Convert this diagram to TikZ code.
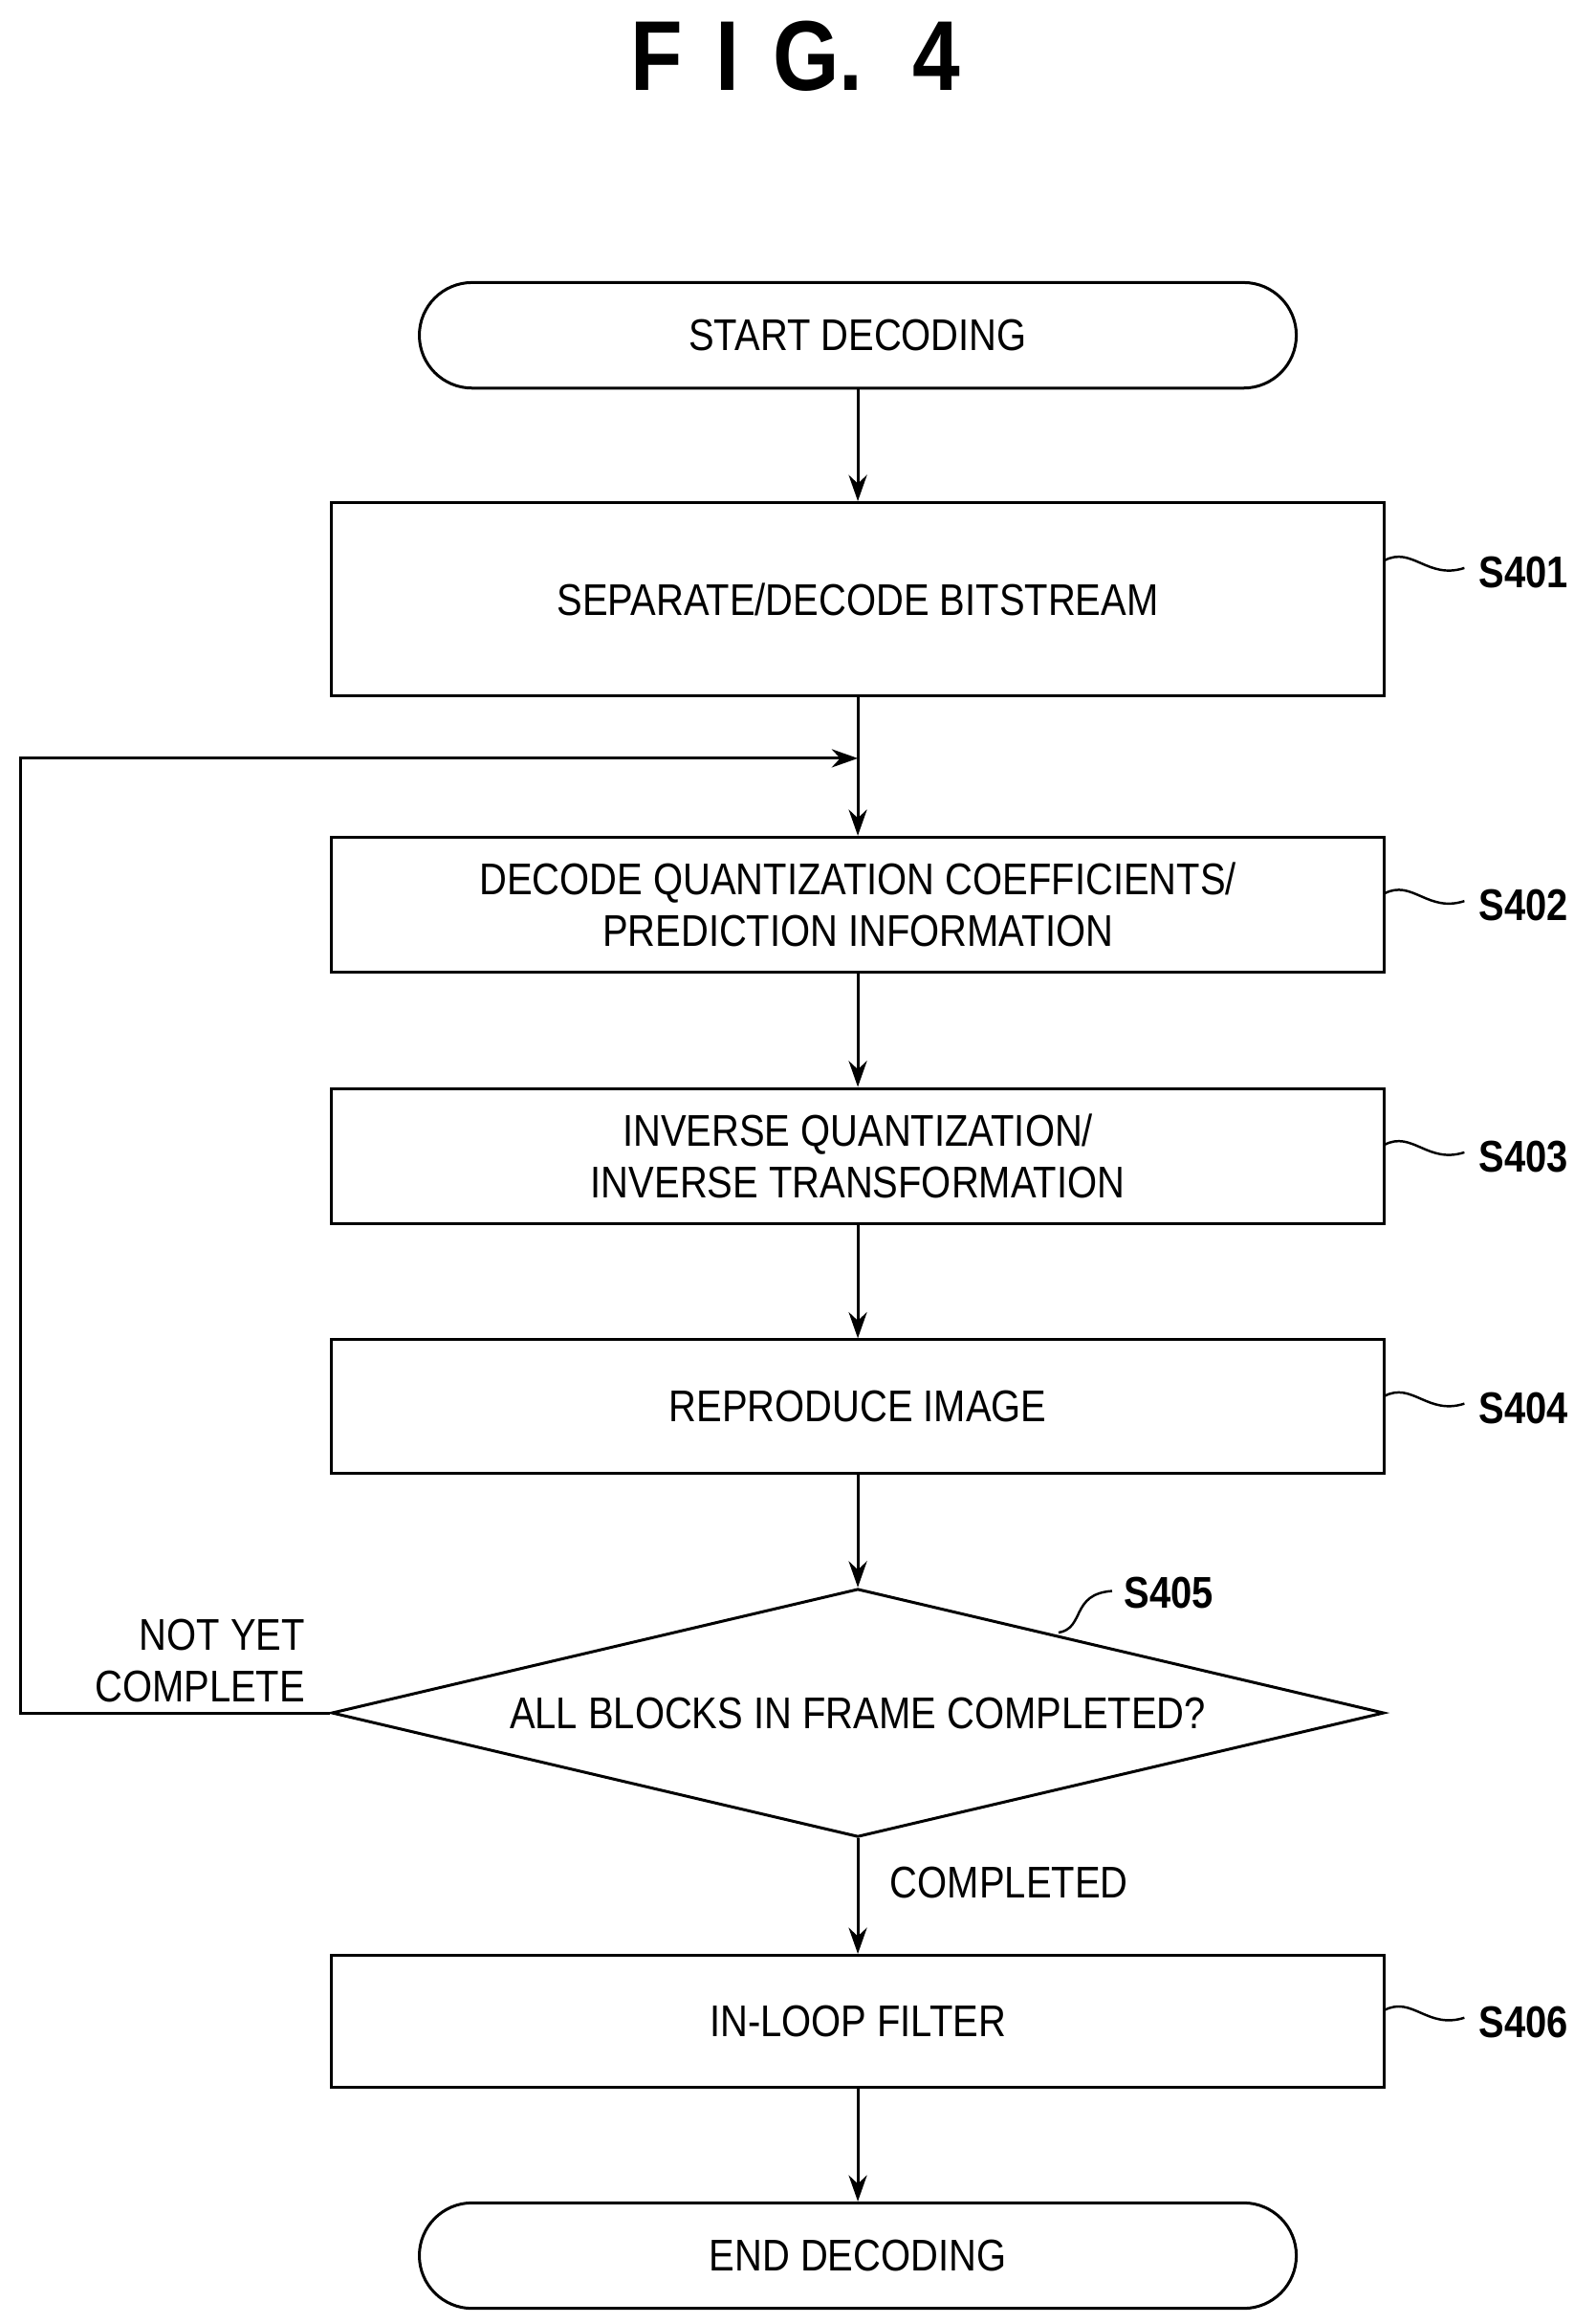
\documentclass[tikz,border=0pt]{standalone}
\usepackage{fontspec}
\setmainfont{Liberation Sans}[FakeStretch=0.86]
\usetikzlibrary{shapes.geometric,arrows.meta}
\begin{document}
\begin{tikzpicture}[x=0.02cm,y=-0.02cm,line width=1.1pt,
  every node/.style={font=\fontsize{17}{20}\selectfont},
  box/.style={draw,rectangle,minimum width=14.16cm,inner sep=0pt,align=center},
  term/.style={draw,rectangle,rounded corners=0.71cm,minimum width=11.8cm,minimum height=1.42cm},
  arr/.style={-{Stealth[length=10pt,width=7pt]}},
  lab/.style={font=\bfseries\fontsize{17}{20}\selectfont},
  sq/.style={line width=0.9pt}]
\useasboundingbox (0,0) rectangle (1073,1563);
\node[font=\bfseries\fontsize{38}{40}\selectfont] (title) at (535,38) {F\,\,I\,\,G.\,\,\,4};
\node[term] (start) at (577,225.5) {START DECODING};
\node[box,minimum height=2.6cm] (s401) at (577,403) {SEPARATE/DECODE BITSTREAM};
\node[box,minimum height=1.82cm] (s402) at (577,608.5) {DECODE QUANTIZATION COEFFICIENTS/\\PREDICTION INFORMATION};
\node[box,minimum height=1.82cm] (s403) at (577,777.5) {INVERSE QUANTIZATION/\\INVERSE TRANSFORMATION};
\node[box,minimum height=1.8cm] (s404) at (577,946) {REPRODUCE IMAGE};
\node[draw,diamond,aspect=4.24,minimum width=14.16cm,minimum height=3.34cm,inner sep=0pt] (s405) at (577,1152) {ALL BLOCKS IN FRAME COMPLETED?};
\node[box,minimum height=1.78cm] (s406) at (577,1359.5) {IN-LOOP FILTER};
\node[term] (end) at (577,1517) {END DECODING};
\coordinate (j) at (577,510);
\coordinate (lt) at (14,510);
\coordinate (lb) at (14,1152);
\draw[arr] (start) -- (s401);
\draw (s401) -- (j);
\draw[arr] (j) -- (s402);
\draw[arr] (s402) -- (s403);
\draw[arr] (s403) -- (s404);
\draw[arr] (s404) -- (s405);
\draw[arr] (s405) -- (s406);
\draw[arr] (s406) -- (end);
\draw[arr] (s405.west) -- (lb) -- (lt) -- (j);
\node[align=right,anchor=east] (ny) at (212,1117) {NOT YET\\COMPLETE};
\node[anchor=west] (cp) at (592,1266) {COMPLETED};
\foreach \n/\y in {401/385,402/609,403/778,404/947,406/1360}{
  \node[lab] (l\n) at (1025,\y) {S\n};
  \coordinate (a\n) at (931,\y-8);
  \draw[sq] (a\n) .. controls (950,\y-18) and (960,\y+5) .. (985,\y-3);
}
\node[lab] (l405) at (786,1071) {S405};
\coordinate (a405) at (712,1098);
\draw[sq] (a405) .. controls (730,1095) and (720,1072) .. (748,1070);
\end{tikzpicture}
\end{document}
